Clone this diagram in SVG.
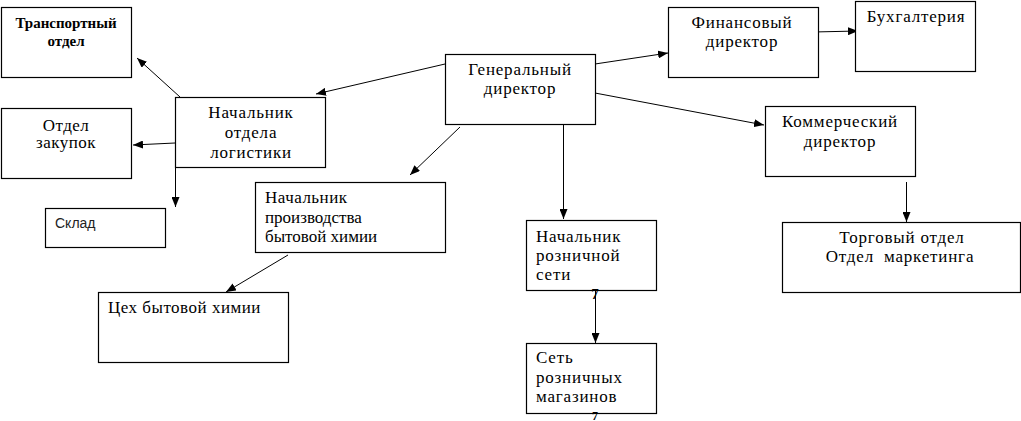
<svg xmlns="http://www.w3.org/2000/svg" width="1021" height="421" viewBox="0 0 1021 421">
<style>
.box{fill:#fff;stroke:#000;stroke-width:1.2}
text{font-size:17px;fill:#000}
text.ls{letter-spacing:0.8px}
text.ls2{letter-spacing:0.5px}
text.c{text-anchor:middle}
text.b{font-weight:bold;font-size:15px}
text.s{font-size:14px;fill:#222}
.ln{stroke:#000;stroke-width:1;fill:none;marker-end:url(#ah)}
</style>
<defs>
<marker id="ah" viewBox="0 0 10 8" refX="10" refY="4" markerWidth="10" markerHeight="8" markerUnits="userSpaceOnUse" orient="auto">
<path d="M0,0 L10,4 L0,8 Z" fill="#000"/>
</marker>
</defs>
<rect width="1021" height="421" fill="#fff"/>
<g id="connectors">
<line class="ln" x1="445" y1="64" x2="316" y2="94"/>
<line class="ln" x1="180" y1="97" x2="137" y2="58"/>
<line class="ln" x1="175" y1="143" x2="133" y2="145"/>
<line class="ln" x1="175.5" y1="167" x2="175.5" y2="207"/>
<line class="ln" x1="460" y1="127" x2="410" y2="175"/>
<line class="ln" x1="563.5" y1="124" x2="563.5" y2="219"/>
<line class="ln" x1="595" y1="64" x2="668" y2="53"/>
<line class="ln" x1="595" y1="93" x2="764" y2="125"/>
<line class="ln" x1="813" y1="32" x2="858" y2="31"/>
<line class="ln" x1="906.5" y1="182" x2="906.5" y2="222"/>
<line class="ln" x1="288" y1="255" x2="226" y2="292"/>
<line class="ln" x1="595.5" y1="290" x2="595.5" y2="343"/>
</g>
<g id="transport">
<rect class="box" x="1.5" y="7.5" width="130" height="70"/>
<text class="c b" x="66" y="28" font-family="Liberation Serif">Транспортный</text>
<text class="c b" x="66" y="46" font-family="Liberation Serif">отдел</text>
</g>
<g id="zakupki">
<rect class="box" x="1.5" y="108.5" width="130" height="70"/>
<text class="c ls2" x="66" y="131" font-family="Liberation Serif">Отдел</text>
<text class="c ls2" x="66" y="148" font-family="Liberation Serif">закупок</text>
</g>
<g id="logistics">
<rect class="box" x="175.5" y="97.5" width="150" height="70"/>
<text class="c ls" x="251" y="118" font-family="Liberation Serif">Начальник</text>
<text class="c ls" x="251" y="138" font-family="Liberation Serif">отдела</text>
<text class="c ls" x="251" y="158" font-family="Liberation Serif">логистики</text>
</g>
<g id="sklad">
<rect class="box" x="45.5" y="208.5" width="120" height="39"/>
<text class="s" x="55" y="228" font-family="Liberation Sans">Склад</text>
</g>
<g id="general">
<rect class="box" x="445.5" y="54.5" width="150" height="70"/>
<text class="c ls" x="520" y="75" font-family="Liberation Serif">Генеральный</text>
<text class="c ls" x="520" y="94" font-family="Liberation Serif">директор</text>
</g>
<g id="finance">
<rect class="box" x="668.5" y="7.5" width="150" height="70"/>
<text class="c ls" x="742" y="28" font-family="Liberation Serif">Финансовый</text>
<text class="c ls" x="742" y="47" font-family="Liberation Serif">директор</text>
</g>
<g id="buh">
<rect class="box" x="855.5" y="1.5" width="120" height="70"/>
<text class="c ls" x="916" y="22" font-family="Liberation Serif">Бухгалтерия</text>
</g>
<g id="commerce">
<rect class="box" x="765.5" y="106.5" width="150" height="70"/>
<text class="c ls" x="840" y="127" font-family="Liberation Serif">Коммерческий</text>
<text class="c ls" x="840" y="147" font-family="Liberation Serif">директор</text>
</g>
<g id="production">
<rect class="box" x="255.5" y="182.5" width="190" height="70"/>
<text class="ls2" x="265" y="203" font-family="Liberation Serif">Начальник</text>
<text x="265" y="223" font-family="Liberation Serif">производства</text>
<text x="265" y="242" font-family="Liberation Serif">бытовой химии</text>
</g>
<g id="ceh">
<rect class="box" x="98.5" y="292.5" width="190" height="70"/>
<text class="ls2" x="108" y="313" font-family="Liberation Serif">Цех бытовой химии</text>
</g>
<g id="retail-head">
<rect class="box" x="526.5" y="220.5" width="130" height="70"/>
<text class="ls" x="536" y="242" font-family="Liberation Serif">Начальник</text>
<text class="ls" x="536" y="261" font-family="Liberation Serif">розничной</text>
<text class="ls" x="536" y="280" font-family="Liberation Serif">сети</text>
<text class="c b" x="595" y="299" font-family="Liberation Serif">7</text>
</g>
<g id="retail-net">
<rect class="box" x="526.5" y="343.5" width="130" height="70"/>
<text class="ls" x="536" y="363" font-family="Liberation Serif">Сеть</text>
<text class="ls" x="536" y="383" font-family="Liberation Serif">розничных</text>
<text class="ls" x="536" y="402" font-family="Liberation Serif">магазинов</text>
<text class="c b" x="595" y="420" style="font-size:12px" font-family="Liberation Serif">7</text>
</g>
<g id="trade">
<rect class="box" x="782.5" y="222.5" width="238" height="70"/>
<text class="c ls" x="902" y="243" font-family="Liberation Serif">Торговый отдел</text>
<text class="c ls" x="900" y="262" xml:space="preserve" font-family="Liberation Serif">Отдел  маркетинга</text>
</g>
</svg>
